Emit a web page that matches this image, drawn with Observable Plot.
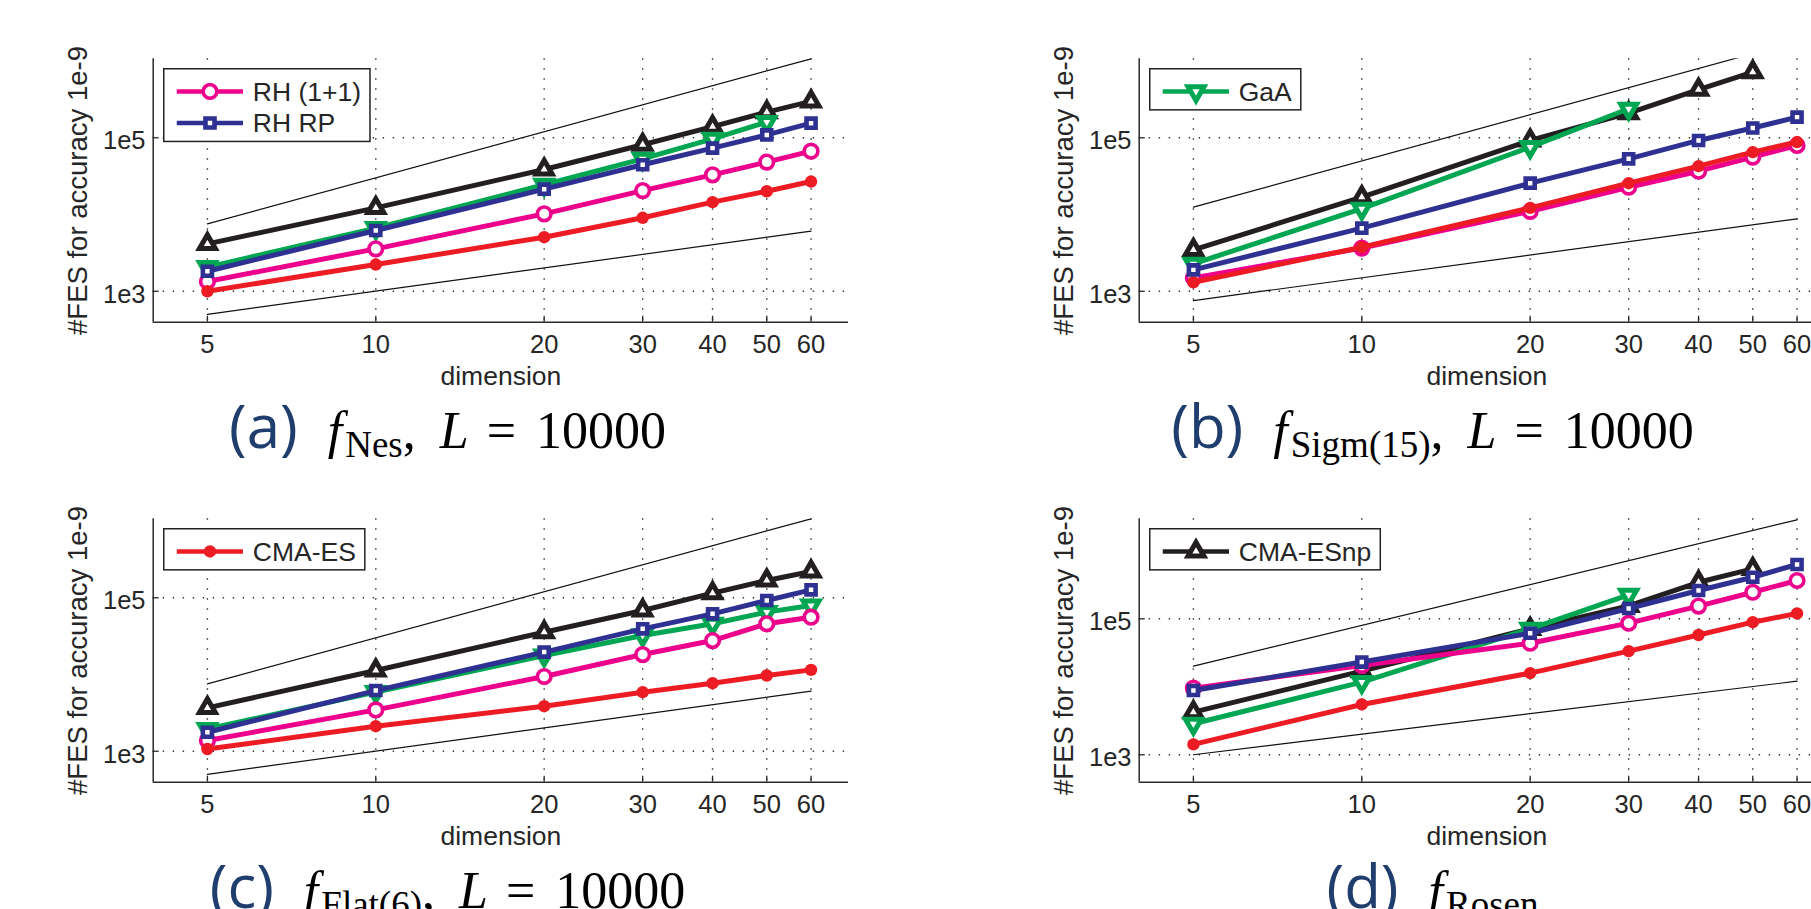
<!DOCTYPE html>
<html><head><meta charset="utf-8">
<script src="https://cdn.jsdelivr.net/npm/d3@7"></script>
<script src="https://cdn.jsdelivr.net/npm/@observablehq/plot@0.6"></script>
<style>
html,body{margin:0;padding:0;background:#fff;overflow:hidden}
#fig{position:relative;width:1811px;height:909px;overflow:hidden;background:#fff}
#fig svg{position:absolute;overflow:visible}
</style></head><body><div id="fig"></div>
<script>
// ---------------- data ----------------
const dims = [5, 10, 20, 30, 40, 50, 60];
const xTicks = [5, 10, 20, 30, 40, 50, 60];
const yTicks = [1e3, 1e5];
const yTickLabels = ["1e3", "1e5"];
const refDims = [5, 60];
const seriesNames = ["RH (1+1)", "RH RP", "GaA", "CMA-ES", "CMA-ESnp"];
const drawOrder = ["CMA-ESnp", "GaA", "RH (1+1)", "CMA-ES", "RH RP"];

// (a) f_Nes
const nesRH11 = [1340, 3570, 10200, 20500, 32900, 48200, 67000];
const nesRHRP = [1820, 6180, 21400, 44500, 73300, 109000, 155000];
const nesGaA = [2060, 6630, 24400, 53200, 97000, 160000];
const nesCMA = [1000, 2230, 5060, 9060, 14500, 20100, 26900];
const nesCMAnp = [4140, 12200, 38600, 81200, 140000, 216000, 298000];
const nesRefLin = [500, 6060];
const nesRefQuad = [7550, 1070000];

// (b) f_Sigm(15)
const sigRH11 = [1490, 3650, 11000, 22700, 36700, 56000, 79400];
const sigRHRP = [1900, 6640, 25600, 53200, 92300, 134000, 186000];
const sigGaA = [2280, 11900, 75500, 239000];
const sigCMA = [1310, 3750, 12200, 25600, 42700, 65000, 88000];
const sigCMAnp = [3460, 16800, 92300, 210000, 423000, 719000];
const sigRefLin = [755, 8770];
const sigRefQuad = [12500, 1800000];

// (c) f_Flat(6)
const flatRH11 = [1380, 3460, 9410, 18200, 27700, 45800, 55900];
const flatRHRP = [1770, 6180, 19600, 39400, 61800, 92300, 127000];
const flatGaA = [1950, 5890, 17700, 32300, 45800, 65000, 79400];
const flatCMA = [1070, 2120, 3860, 5890, 7710, 9710, 11500];
const flatCMAnp = [3670, 11300, 35600, 68300, 115000, 168000, 220000];
const flatRefLin = [500, 6060];
const flatRefQuad = [7550, 1070000];

// (d) f_Rosen
const rosRH11 = [9550, 20600, 43800, 86300, 154000, 246000, 366000];
const rosRHRP = [8830, 23100, 61400, 142000, 261000, 409000, 630000];
const rosGaA = [2860, 11700, 71300, 225000];
const rosCMA = [1420, 5500, 15900, 33500, 57800, 89200, 120000];
const rosCMAnp = [4240, 17000, 71300, 155000, 345000, 543000];
const rosRefLin = [1000, 12100];
const rosRefQuad = [20100, 2860000];

const capLabels = ["(a)", "(b)", "(c)", "(d)"];
const capSubs = ["Nes", "Sigm(15)", "Flat(6)", "Rosen"];
const capL = ["10000", "10000", "10000", null];

// ---------------- styles ----------------
const S = {
  "RH (1+1)": {color: "#ec008c", symbol: "circle", r: 6.8, fill: "white", sw: 3.6, rot: 0},
  "RH RP": {color: "#2e3192", symbol: "square", r: 5.1, fill: "white", sw: 4.6, rot: 0},
  "GaA": {color: "#00a651", symbol: "triangle", r: 5.9, fill: "white", sw: 5, rot: 180},
  "CMA-ES": {color: "#ed1c24", symbol: "circle", r: 6.2, fill: "#ed1c24", sw: 0, rot: 0},
  "CMA-ESnp": {color: "#231f20", symbol: "triangle", r: 5.9, fill: "white", sw: 5, rot: 0}
};

const panels = [
  {col: 0, row: 0, yDomain: [395, 1.07e6], data: [nesRH11, nesRHRP, nesGaA, nesCMA, nesCMAnp], lin: nesRefLin, quad: nesRefQuad, legend: ["RH (1+1)", "RH RP"]},
  {col: 1, row: 0, yDomain: [395, 1.07e6], data: [sigRH11, sigRHRP, sigGaA, sigCMA, sigCMAnp], lin: sigRefLin, quad: sigRefQuad, legend: ["GaA"]},
  {col: 0, row: 1, yDomain: [395, 1.07e6], data: [flatRH11, flatRHRP, flatGaA, flatCMA, flatCMAnp], lin: flatRefLin, quad: flatRefQuad, legend: ["CMA-ES"]},
  {col: 1, row: 1, yDomain: [395, 2.96e6], data: [rosRH11, rosRHRP, rosGaA, rosCMA, rosCMAnp], lin: rosRefLin, quad: rosRefQuad, legend: ["CMA-ESnp"]}
];

// ---------------- layout ----------------
const colLeft = [0, 985.5];
const rowTop = [0, 460];
const W = 900, H = 460;
const mL = 152.7, mT = 58.3, mR = 52, mB = 138.3;
const frameW = W - mL - mR, frameH = H - mT - mB;
const xDomain = [4, 70];
const axisColor = "#2a2a2a";
const textColor = "#262626";
const fig = document.getElementById("fig");

const toRows = (name, vals) => vals.map((v, i) => ({name, dim: dims[i], v}));
const refRows = (vals) => vals.map((v, i) => ({dim: refDims[i], v}));

panels.forEach((p, k) => {
  const byName = {};
  seriesNames.forEach((n, i) => byName[n] = toRows(n, p.data[i]));
  const grid = {stroke: "#333", strokeOpacity: 1, strokeWidth: 1.4, strokeDasharray: "1.4 8.6"};
  const marks = [
    Plot.gridX(xTicks, grid),
    Plot.gridY(yTicks, grid),
    Plot.line(refRows(p.lin), {x: "dim", y: "v", stroke: "#111", strokeWidth: 1.2, clip: true}),
    Plot.line(refRows(p.quad), {x: "dim", y: "v", stroke: "#111", strokeWidth: 1.2, clip: true}),
    ...drawOrder.flatMap(n => {
      const s = S[n];
      return [
        Plot.line(byName[n], {x: "dim", y: "v", stroke: s.color, strokeWidth: 5}),
        Plot.dot(byName[n], {x: "dim", y: "v", symbol: s.symbol, r: s.r, fill: s.fill, stroke: s.sw ? s.color : "none", strokeWidth: s.sw, rotate: s.rot})
      ];
    }),
    Plot.ruleX([xDomain[0]], {stroke: axisColor, strokeWidth: 1.5}),
    Plot.ruleY([p.yDomain[0]], {stroke: axisColor, strokeWidth: 1.5}),
    Plot.tickX(xTicks, {x: d => d, stroke: axisColor, strokeWidth: 1.3, insetTop: frameH - 6}),
    Plot.tickY(yTicks, {y: d => d, stroke: axisColor, strokeWidth: 1.3, insetRight: frameW - 6}),
    Plot.axisX(xTicks, {tickSize: 0, tickPadding: 13, fontSize: 25.5, tickFormat: d => `${d}`, label: null}),
    Plot.axisY(yTicks, {tickSize: 0, tickPadding: 7.7, fontSize: 25.5, dy: 3.5, tickFormat: d => yTickLabels[yTicks.indexOf(d)], label: null}),
    Plot.text(["dimension"], {frameAnchor: "bottom", lineAnchor: "bottom", textAnchor: "middle", dy: 62.3, fontSize: 26.5, text: d => d}),
    Plot.text(["#FES for accuracy 1e-9"], {frameAnchor: "left", rotate: -90, lineAnchor: "bottom", textAnchor: "middle", dx: -66.7, fontSize: 27.5, text: d => d})
  ];
  const chart = Plot.plot({
    width: W, height: H,
    marginLeft: mL, marginRight: mR, marginTop: mT, marginBottom: mB,
    x: {type: "log", domain: xDomain},
    y: {type: "log", domain: p.yDomain},
    style: {fontFamily: "'Liberation Sans', Arial, sans-serif", color: textColor, background: "transparent", overflow: "visible"},
    marks
  });
  chart.style.left = colLeft[p.col] + "px";
  chart.style.top = rowTop[p.row] + "px";
  fig.appendChild(chart);

  // legend box
  const ctx = document.createElement("canvas").getContext("2d");
  ctx.font = "26.5px 'Liberation Sans'";
  const tw = Math.max(...p.legend.map(n => ctx.measureText(n).width));
  const lw = 89 + tw + 9, lh = 9.5 + p.legend.length * 31.6;
  const lg = d3.create("svg").attr("width", lw + 2).attr("height", lh + 2)
    .style("left", (colLeft[p.col] + mL + 11.3 - 0.75) + "px")
    .style("top", (rowTop[p.row] + mT + 10.7 - 0.75) + "px");
  lg.append("rect").attr("x", 0.75).attr("y", 0.75).attr("width", lw).attr("height", lh)
    .attr("fill", "white").attr("stroke", "#222").attr("stroke-width", 1.5);
  p.legend.forEach((n, i) => {
    const s = S[n];
    const cy = 0.75 + 22.7 + i * 31.6;
    lg.append("line").attr("x1", 13.75).attr("x2", 80).attr("y1", cy).attr("y2", cy)
      .attr("stroke", s.color).attr("stroke-width", 4.6);
    const sym = s.symbol === "circle" ? d3.symbolCircle : s.symbol === "square" ? d3.symbolSquare : d3.symbolTriangle;
    lg.append("path").attr("d", d3.symbol(sym, Math.PI * s.r * s.r)())
      .attr("transform", `translate(47,${cy}) rotate(${s.rot})`)
      .attr("fill", s.fill).attr("stroke", s.sw ? s.color : "none").attr("stroke-width", s.sw);
    lg.append("text").attr("x", 89.75).attr("y", cy + 9.4).attr("font-family", "'Liberation Sans', Arial, sans-serif")
      .attr("font-size", 26.5).attr("fill", textColor).text(n);
  });
  fig.appendChild(lg.node());
});

// captions
const cap = d3.create("svg").attr("width", 1811).attr("height", 909).style("left", "0px").style("top", "0px");
const capCenters = [447.5, 1432.5];
const capBase = [448, 908];
panels.forEach((p, k) => {
  const t = cap.append("text").attr("x", capCenters[p.col]).attr("y", capBase[p.row])
    .attr("text-anchor", "middle").attr("font-family", "'Liberation Serif', 'DejaVu Serif', serif")
    .attr("font-size", 52).attr("fill", "#000");
  t.append("tspan").attr("font-family", "'Open Sans', 'Noto Sans', sans-serif").attr("font-size", 60)
    .attr("fill", "#1f3d6d").text(capLabels[k]);
  t.append("tspan").attr("dx", 30).attr("font-style", "italic").text("f");
  t.append("tspan").attr("dx", 3).attr("dy", 9).attr("font-size", 37).text(capSubs[k]);
  if (capL[k]) {
    t.append("tspan").attr("dy", -9).text(",");
    t.append("tspan").attr("dx", 24).attr("font-style", "italic").text("L");
    t.append("tspan").attr("dx", 18).text("=");
    t.append("tspan").attr("dx", 20).text(capL[k]);
  }
});
fig.appendChild(cap.node());
</script></body></html>
